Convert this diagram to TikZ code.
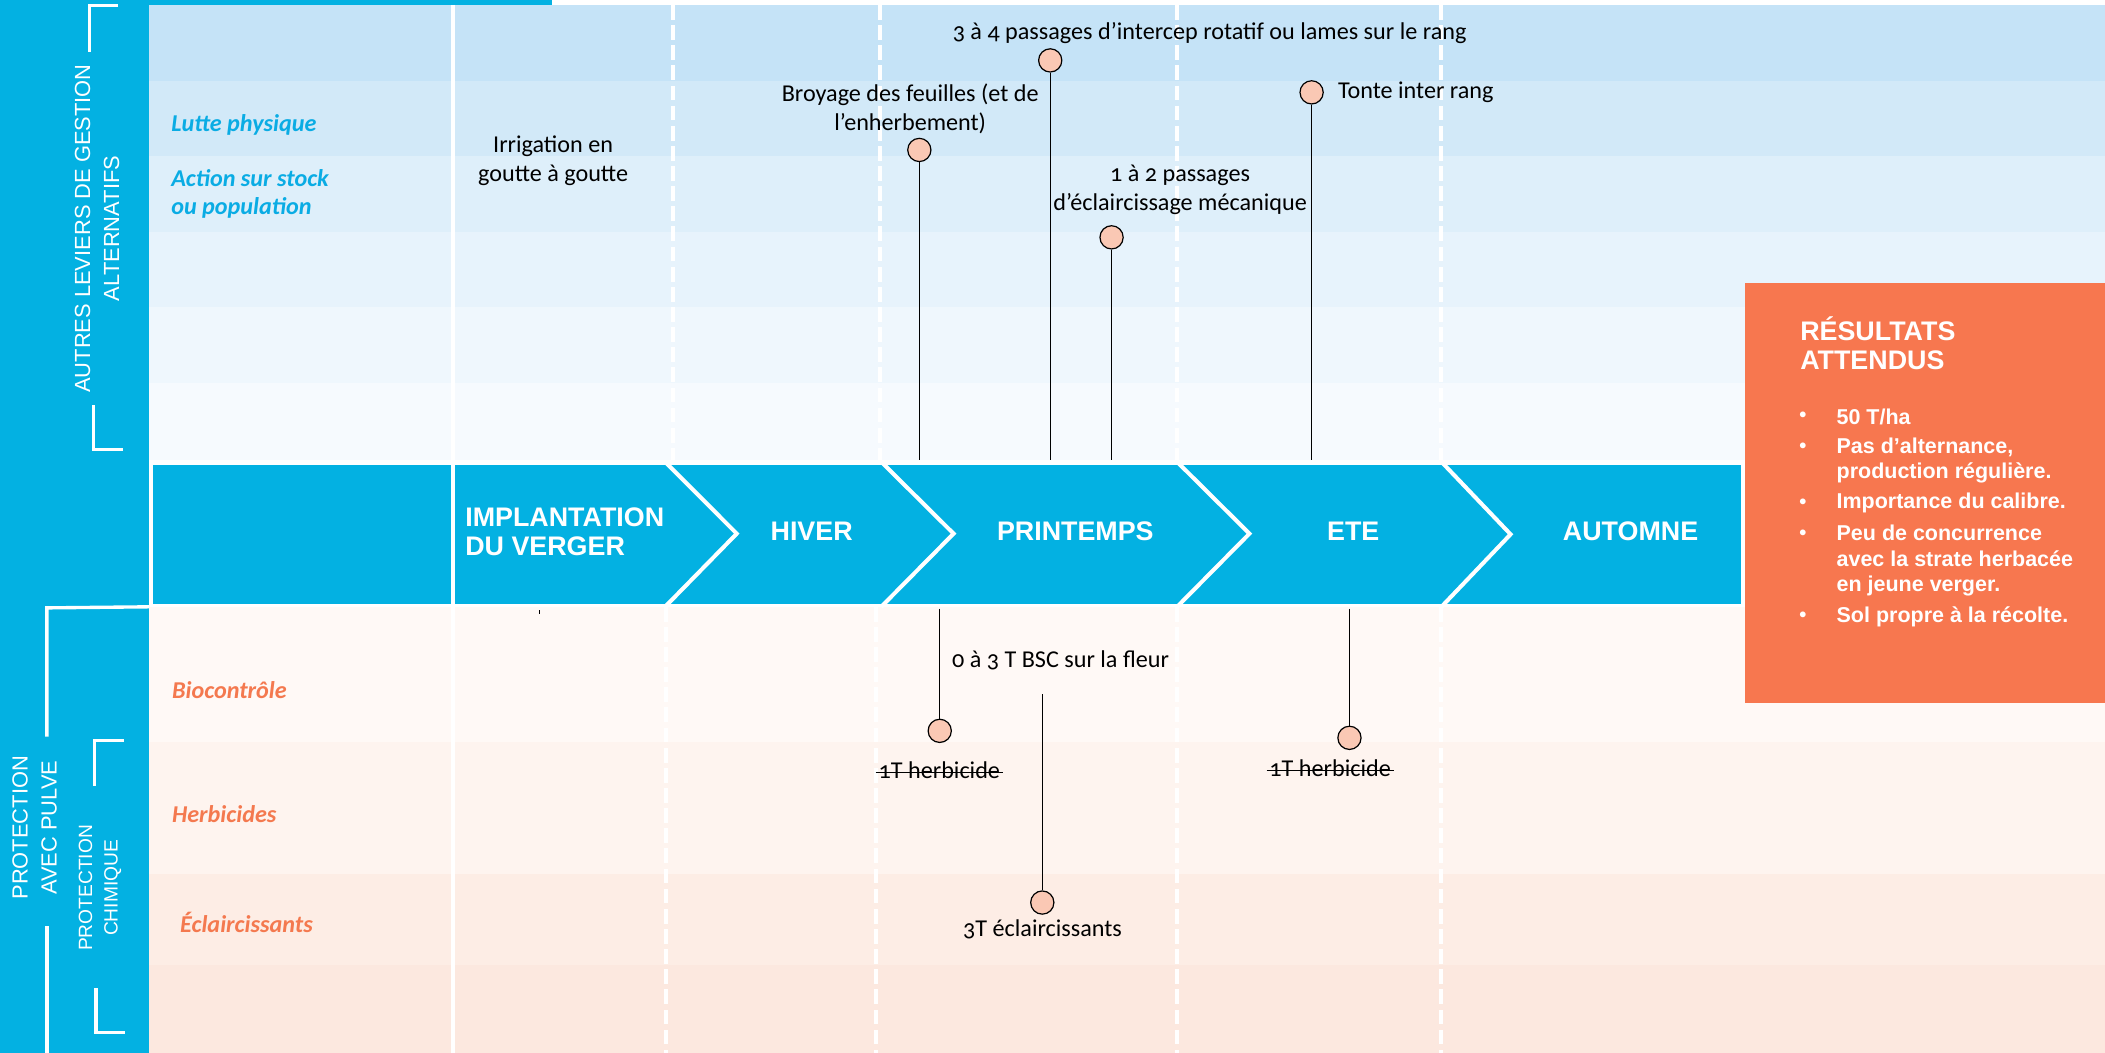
\documentclass[tikz,border=0pt]{standalone}
\usepackage{fontspec}
\setmainfont{Carlito}[Numbers=OldStyle]
\newfontfamily\lsans{Liberation Sans}
\usetikzlibrary{calc}
\definecolor{sideblue}{RGB}{3,177,226}
\definecolor{labblue}{RGB}{10,172,228}
\definecolor{laborange}{RGB}{244,121,79}
\definecolor{boxorange}{RGB}{247,119,79}
\definecolor{peach}{RGB}{250,200,180}
\definecolor{rA}{RGB}{197,227,247}
\definecolor{rB}{RGB}{210,233,248}
\definecolor{rC}{RGB}{222,239,250}
\definecolor{rD}{RGB}{231,243,252}
\definecolor{rE}{RGB}{239,247,253}
\definecolor{rF}{RGB}{246,250,254}
\definecolor{pA}{RGB}{255,249,246}
\definecolor{pB}{RGB}{254,244,239}
\definecolor{pC}{RGB}{253,237,229}
\definecolor{pD}{RGB}{252,232,223}
\begin{document}
\begin{tikzpicture}[x=1pt,y=-1pt,
  tlabel/.style={font=\fontsize{18}{21.5}\selectfont, inner sep=0pt, align=center, text=black},
  rowlab/.style={font=\fontsize{18}{21}\selectfont\bfseries\itshape, inner sep=0pt, anchor=west, align=left},
  dot/.style={circle, draw=black, line width=0.9pt, fill=peach, minimum size=17.3pt, inner sep=0pt},
  stem/.style={draw=black, line width=0.95pt},
  wdash/.style={white, line width=3pt, dash pattern=on 11pt off 4pt},
  wsolid/.style={white, line width=3.2pt},
  season/.style={text=white, font=\lsans\bfseries\fontsize{20}{21.8}\selectfont, inner sep=0pt},
  sidetxt/.style={text=white, rotate=90, align=center, inner sep=0pt},
  bracket/.style={white, line width=2.5pt},
  restxt/.style={text=white, font=\lsans\bfseries\fontsize{16}{19}\selectfont, anchor=west, align=left, inner sep=0pt},
  bul/.style={text=white, font=\lsans\bfseries\fontsize{15}{15}\selectfont, inner sep=0pt}
]
\useasboundingbox (0,0) rectangle (1568,784);
\fill[white] (0,0) rectangle (1568,784);

% top rows (alternative levers)
\fill[rA] (111,3.7) rectangle (1568,60.3);
\fill[rB] (111,60.3) rectangle (1568,116.2);
\fill[rC] (111,116.2) rectangle (1568,172.6);
\fill[rD] (111,172.6) rectangle (1568,228.9);
\fill[rE] (111,228.9) rectangle (1568,285);
\fill[rF] (111,285) rectangle (1568,343);

% bottom rows (protection)
\fill[pA] (111,452.5) rectangle (1568,552.5);
\fill[pB] (111,552.5) rectangle (1568,651.3);
\fill[pC] (111,651.3) rectangle (1568,718.5);
\fill[pD] (111,718.5) rectangle (1568,784);

% sidebar
\fill[sideblue] (0,0) rectangle (111,784);
\fill[sideblue] (0,0) rectangle (411,3.7);

% dashed dividers
\foreach \xx in {501,655.6,876.9,1073.7} \draw[wdash] (\xx,3.7) -- (\xx,343);
\foreach \xx in {496.2,652.5,876.8,1073.7} \draw[wdash] (\xx,452) -- (\xx,784);

% season band
\fill[sideblue] (114,346.7) rectangle (1297,450);
\draw[wsolid] (337.5,3.7) -- (337.5,784);
\draw[white, line width=3pt] (495.4,344) -- (548.8,397.5) -- (495.4,452);
\draw[white, line width=3pt] (656.4,344) -- (710.3,397.5) -- (656.4,452);
\draw[white, line width=3pt] (876.8,344) -- (930.7,397.5) -- (876.8,452);
\draw[white, line width=3pt] (1073.7,344) -- (1125.2,398) -- (1073.7,452);

\node[season, anchor=west, align=left] (implant) at (346.4,395.9) {IMPLANTATION\\DU VERGER};
\node[season] (hiver) at (604.6,396) {HIVER};
\node[season] (printemps) at (801,396) {PRINTEMPS};
\node[season] (ete) at (1008,396) {ETE};
\node[season] (automne) at (1214.6,396) {AUTOMNE};

% results box
\fill[boxorange] (1299.8,210.8) rectangle (1568,523.4);
\node[text=white, font=\lsans\bfseries\fontsize{20}{21.8}\selectfont, anchor=west, align=left, inner sep=0pt] (restitle) at (1340.8,255.5) {RÉSULTATS\\ATTENDUS};
\node[bul] (u1) at (1343,310.4) {•};
\node[bul] (u2) at (1343,333.5) {•};
\node[bul] (u3) at (1343,374.9) {•};
\node[bul] (u4) at (1343,398.5) {•};
\node[bul] (u5) at (1343,459.4) {•};
\node[restxt] (r1) at (1367.9,310.4) {50 T/ha};
\node[restxt] (r2) at (1367.9,343) {Pas d’alternance,\\production régulière.};
\node[restxt] (r3) at (1367.9,374.9) {Importance du calibre.};
\node[restxt] (r4) at (1367.9,417.6) {Peu de concurrence\\avec la strate herbacée\\en jeune verger.};
\node[restxt] (r5) at (1367.9,459.4) {Sol propre à la récolte.};

% sidebar texts and brackets
\node[sidetxt, font=\lsans\fontsize{16.3}{21.5}\selectfont] (autres) at (72.3,170.2) {AUTRES LEVIERS DE GESTION\\ALTERNATIFS};
\node[sidetxt, font=\lsans\fontsize{16.3}{21.6}\selectfont] (pulve) at (25.8,616.6) {PROTECTION\\AVEC PULVE};
\node[sidetxt, font=\lsans\fontsize{14.3}{19}\selectfont] (chim) at (74.5,661.4) {PROTECTION\\CHIMIQUE};
\draw[bracket] (88,3.9) -- (66.5,3.9) -- (66.5,38.5);
\draw[bracket] (69.8,302) -- (69.8,335) -- (91.5,335);
\draw[bracket] (111,452) -- (34.9,452.8) -- (34.9,548.7);
\draw[bracket] (34.9,689.8) -- (34.9,784);
\draw[bracket] (92.1,551.6) -- (70.5,551.6) -- (70.5,585.6);
\draw[bracket] (71.5,736.2) -- (71.5,769) -- (93.1,769);

% row labels
\node[rowlab, text=labblue] (lutte) at (127.4,93) {Lutte physique};
\node[rowlab, text=labblue] (action) at (127.4,144.5) {Action sur stock\\ou population};
\node[rowlab, text=laborange] (bio) at (128,513.8) {Biocontrôle};
\node[rowlab, text=laborange] (herb) at (128,606.3) {Herbicides};
\node[rowlab, text=laborange] (eclr) at (134,686.8) {Éclaircissants};

% annotations (top)
\node[tlabel] (irrig) at (412,120) {Irrigation en\\goutte à goutte};
\node[tlabel] (intercep) at (901,24.8) {3 à 4 passages d’intercep rotatif ou lames sur le rang};
\node[tlabel] (broyage) at (678,81) {Broyage des feuilles (et de\\l’enherbement)};
\node[tlabel, anchor=west] (tonte) at (996.5,68.8) {Tonte inter rang};
\node[tlabel] (ecmec) at (879,141.5) {1 à 2 passages\\d’éclaircissage mécanique};

\node[dot] (cbroy) at (684.8,111.7) {};
\node[dot] (cinter) at (782.3,45) {};
\node[dot] (cecm) at (828,176.8) {};
\node[dot] (ctonte) at (977,68.8) {};
\coordinate (bbroy) at (684.8,342.6);
\coordinate (binter) at (782.3,342.6);
\coordinate (becm) at (828,342.6);
\coordinate (btonte) at (977,342.6);
\draw[stem] (cbroy) -- (bbroy);
\draw[stem] (cinter) -- (binter);
\draw[stem] (cecm) -- (becm);
\draw[stem] (ctonte) -- (btonte);

% annotations (bottom)
\node[tlabel] (bsc) at (790,492) {0 à 3 T BSC sur la fleur};
\node[tlabel, inner xsep=2pt] (herb1) at (699.7,573.5) {1T herbicide};
\node[tlabel, inner xsep=2pt] (herb2) at (990.8,572) {1T herbicide};
\node[tlabel] (ech) at (776.6,692.6) {3T éclaircissants};
\draw[black, line width=0.9pt] ($(herb1.west)+(0,1.8)$) -- ($(herb1.east)+(0,1.8)$);
\draw[black, line width=0.9pt] ($(herb2.west)+(0,1.8)$) -- ($(herb2.east)+(0,1.8)$);

\node[dot] (cbsc) at (700,544.4) {};
\node[dot] (cech) at (776.4,672.3) {};
\node[dot] (cherb2) at (1005.2,549.6) {};
\coordinate (tbsc) at (700,453.3);
\coordinate (tech) at (776.4,517.3);
\coordinate (therb2) at (1005.2,453.3);
\draw[stem] (tbsc) -- (cbsc);
\draw[stem] (tech) -- (cech);
\draw[stem] (therb2) -- (cherb2);

% tiny tick under implantation
\draw[black, line width=0.8pt] (401.7,454.6) -- (401.7,457.5);
\end{tikzpicture}
\end{document}
